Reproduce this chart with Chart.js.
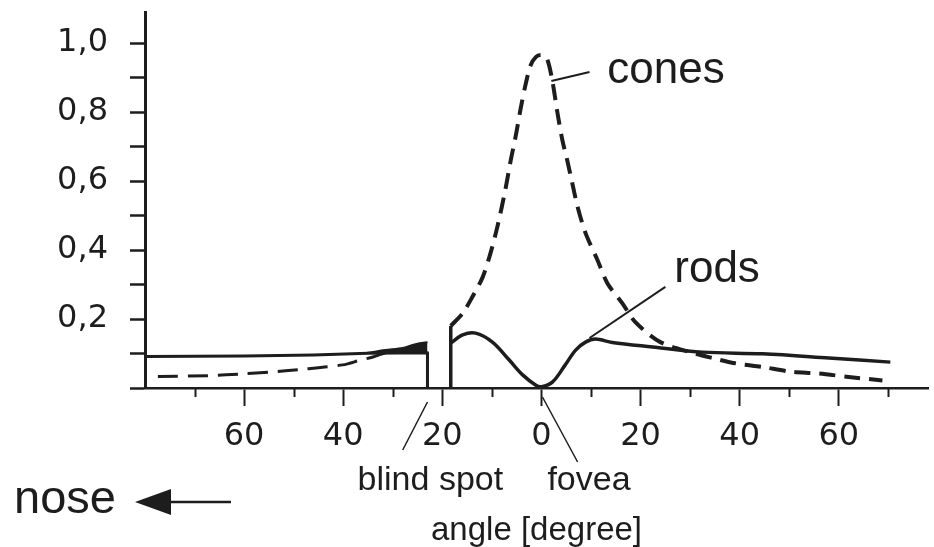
<!DOCTYPE html>
<html>
<head>
<meta charset="utf-8">
<script src="https://cdn.jsdelivr.net/npm/chart.js@4.4.1/dist/chart.umd.min.js"></script>
<style>
html,body{margin:0;padding:0;background:#ffffff;}
canvas{display:block;}
</style>
</head>
<body>
<canvas id="c" width="934" height="547"></canvas>
<script>
// ---------- data (angle in degrees, relative density) ----------
const rodsNasalAngle = [-80, -60, -46, -35, -23, -23];
const rodsNasalValue = [0.091, 0.093, 0.096, 0.101, 0.102, 0];

const wedgeAngle = [-35.5, -31.5, -28, -26, -24.6, -23];
const wedgeValue = [0.101, 0.110, 0.116, 0.125, 0.130, 0.133];

const blindEdgeAngle = [-18.3, -18.3];
const blindEdgeValue = [0, 0.18];

const rodsTemporalAngle = [-18.3, -15.9, -13.3, -9.9, -6.5, -3.8, -1.2, 0, 2.2, 4.8, 6.9, 8.9, 10.9, 14.3, 22.4, 32.5, 44.6, 58, 70.4];
const rodsTemporalValue = [0.130, 0.154, 0.159, 0.133, 0.081, 0.038, 0.009, 0.004, 0.017, 0.067, 0.110, 0.133, 0.142, 0.132, 0.119, 0.104, 0.099, 0.087, 0.075];

const conesNasalAngle = [-77.4, -67, -60.3, -54.8, -48.5, -40.1, -36.5, -34, -31];
const conesNasalValue = [0.033, 0.036, 0.041, 0.046, 0.054, 0.067, 0.081, 0.090, 0.104];

const conesTemporalAngle = [-18.3, -15.9, -13.9, -11.9, -10.5, -8.9, -7.3, -6.2, -5.2, -4.2, -3.2, -2.2, -1.1, 0, 1.1, 2.2, 3.2, 4.2, 5.2, 6.2, 7.3, 8.9, 11.3, 13.3, 16.3, 19, 24, 30, 34.5, 39, 44.6, 50, 56, 62, 68.8];
const conesTemporalValue = [0.180, 0.217, 0.265, 0.320, 0.380, 0.467, 0.574, 0.660, 0.730, 0.810, 0.880, 0.935, 0.960, 0.965, 0.955, 0.890, 0.800, 0.720, 0.660, 0.595, 0.525, 0.449, 0.371, 0.304, 0.246, 0.190, 0.133, 0.104, 0.087, 0.072, 0.061, 0.048, 0.042, 0.032, 0.022];

// ---------- ticks ----------
const yTickValues = [0.2, 0.4, 0.6, 0.8, 1.0];
const yTickLabels = ['0,2', '0,4', '0,6', '0,8', '1,0'];
const yMinorTicks = [0, 0.1, 0.3, 0.5, 0.7, 0.9];
const xTickValues = [-60, -40, -20, 0, 20, 40, 60];
const xTickLabels = ['60', '40', '20', '0', '20', '40', '60'];
const xMinorTicks = [-70, -50, -30, -10, 10, 30, 50, 70];

// ---------- annotation texts ----------
const seriesLabels = [
  {text: 'cones', x: 13.3, y: 0.884},
  {text: 'rods', x: 26.8, y: 0.307}
];
const seriesLeaders = [
  {x1: 2.0, y1: 0.890, x2: 9.7, y2: 0.916},
  {x1: 9.7, y1: 0.145, x2: 25.0, y2: 0.293}
];
const axisNotes = [
  {text: 'blind spot', x: -37.1},
  {text: 'fovea', x: 1.2}
];
const axisNoteLeaders = [
  {x1: -28.0, x2: -23.0},
  {x1: 0.2, x2: 7.3}
];
const xTitle = 'angle [degree]';
const directionLabel = 'nose';

// ---------- styling ----------
const INK = '#1d1d1d';
const TICK_FONT = "'DejaVu Sans', 'Liberation Sans', sans-serif";
const TEXT_FONT = "'Liberation Sans', Arial, Helvetica, sans-serif";

function pts(a, v) { return a.map((x, i) => ({x: x, y: v[i]})); }
function near(a, b) { return Math.abs(a - b) < 1e-6; }

const annotations = {
  id: 'annotations',
  afterDraw(chart) {
    const ctx = chart.ctx;
    const xs = chart.scales.x, ys = chart.scales.y;
    const axisY = ys.getPixelForValue(0);
    ctx.save();
    ctx.strokeStyle = INK;
    ctx.fillStyle = INK;
    ctx.lineCap = 'butt';

    // minor x ticks
    ctx.lineWidth = 2;
    xMinorTicks.forEach(v => {
      const px = Math.round(xs.getPixelForValue(v)) + 0.5;
      ctx.beginPath(); ctx.moveTo(px, axisY); ctx.lineTo(px, axisY + 9); ctx.stroke();
    });

    // leaders in data space
    ctx.lineWidth = 2;
    seriesLeaders.forEach(l => {
      ctx.beginPath();
      ctx.moveTo(xs.getPixelForValue(l.x1), ys.getPixelForValue(l.y1));
      ctx.lineTo(xs.getPixelForValue(l.x2), ys.getPixelForValue(l.y2));
      ctx.stroke();
    });
    // leaders below axis
    ctx.lineWidth = 1.5;
    ctx.beginPath();
    ctx.moveTo(xs.getPixelForValue(axisNoteLeaders[0].x1), axisY + 62);
    ctx.lineTo(xs.getPixelForValue(axisNoteLeaders[0].x2), axisY + 14);
    ctx.stroke();
    ctx.beginPath();
    ctx.moveTo(xs.getPixelForValue(axisNoteLeaders[1].x1), axisY + 9);
    ctx.lineTo(xs.getPixelForValue(axisNoteLeaders[1].x2), axisY + 74);
    ctx.stroke();

    // series labels
    ctx.textBaseline = 'alphabetic';
    ctx.textAlign = 'left';
    ctx.font = '44px ' + TEXT_FONT;
    seriesLabels.forEach(s => {
      ctx.fillText(s.text, xs.getPixelForValue(s.x), ys.getPixelForValue(s.y));
    });

    // notes under axis
    ctx.font = '34px ' + TEXT_FONT;
    axisNotes.forEach(n => {
      ctx.fillText(n.text, xs.getPixelForValue(n.x), axisY + 102);
    });

    // axis title
    ctx.font = '33px ' + TEXT_FONT;
    ctx.textAlign = 'center';
    ctx.fillText(xTitle, (chart.chartArea.left + chart.chartArea.right) / 2, axisY + 152);

    // nose + arrow
    ctx.textAlign = 'left';
    ctx.font = '47px ' + TEXT_FONT;
    ctx.fillText(directionLabel, 14, 513);
    ctx.lineWidth = 2.5;
    ctx.beginPath(); ctx.moveTo(160, 502); ctx.lineTo(231, 502); ctx.stroke();
    ctx.beginPath();
    ctx.moveTo(135, 502); ctx.lineTo(171, 489); ctx.lineTo(171, 515); ctx.closePath();
    ctx.fill();
    ctx.restore();
  }
};

const solid = {borderColor: INK, pointRadius: 0, fill: false, borderCapStyle: 'butt', borderJoinStyle: 'round'};

new Chart(document.getElementById('c'), {
  type: 'line',
  data: {
    datasets: [
      Object.assign({}, solid, {label: 'rods (nasal)', data: pts(rodsNasalAngle, rodsNasalValue), borderWidth: 3, tension: 0}),
      Object.assign({}, solid, {label: 'wedge', data: pts(wedgeAngle, wedgeValue), borderWidth: 2, tension: 0.3, fill: {value: 0.101}, backgroundColor: INK}),
      Object.assign({}, solid, {label: 'blind spot edge', data: pts(blindEdgeAngle, blindEdgeValue), borderWidth: 3.5, tension: 0}),
      Object.assign({}, solid, {label: 'rods', data: pts(rodsTemporalAngle, rodsTemporalValue), borderWidth: 3.5, tension: 0.35}),
      Object.assign({}, solid, {label: 'cones (nasal)', data: pts(conesNasalAngle, conesNasalValue), borderWidth: 3, borderDash: [20, 10], tension: 0.3}),
      Object.assign({}, solid, {label: 'cones', data: pts(conesTemporalAngle, conesTemporalValue), borderWidth: 4, borderDash: [16, 9], tension: 0.3})
    ]
  },
  options: {
    responsive: false,
    animation: false,
    events: [],
    layout: {padding: {top: 12, right: 6, left: 0, bottom: 0}},
    plugins: {legend: {display: false}, tooltip: {enabled: false}},
    scales: {
      x: {
        type: 'linear',
        min: -80, max: 78,
        afterFit(scale) { scale.height = 159; scale.paddingLeft = 0; scale.paddingRight = 0; },
        afterBuildTicks(scale) {
          scale.ticks = xTickValues.map(v => ({value: v}));
        },
        border: {display: true, color: INK, width: 2.5},
        grid: {drawOnChartArea: false, drawTicks: true, tickLength: 18, tickWidth: 2, tickColor: INK},
        ticks: {
          color: INK,
          padding: 11,
          maxRotation: 0,
          autoSkip: false,
          font: {family: TICK_FONT, size: 32},
          callback(v) {
            const i = xTickValues.findIndex(t => near(t, v));
            return i >= 0 ? xTickLabels[i] : '';
          }
        }
      },
      y: {
        type: 'linear',
        min: 0, max: 1.09,
        afterFit(scale) { scale.width = 145; scale.paddingTop = 0; scale.paddingBottom = 0; },
        afterBuildTicks(scale) {
          const all = yMinorTicks.concat(yTickValues).sort((a, b) => a - b);
          scale.ticks = all.map(v => ({value: v}));
        },
        border: {display: true, color: INK, width: 3},
        grid: {drawOnChartArea: false, drawTicks: true, tickLength: 15, tickWidth: 2.5, tickColor: INK},
        ticks: {
          color: INK,
          padding: 22,
          autoSkip: false,
          font: {family: TICK_FONT, size: 32},
          callback(v) {
            const i = yTickValues.findIndex(t => near(t, v));
            return i >= 0 ? yTickLabels[i] : '';
          }
        }
      }
    }
  },
  plugins: [annotations]
});
</script>
</body>
</html>
